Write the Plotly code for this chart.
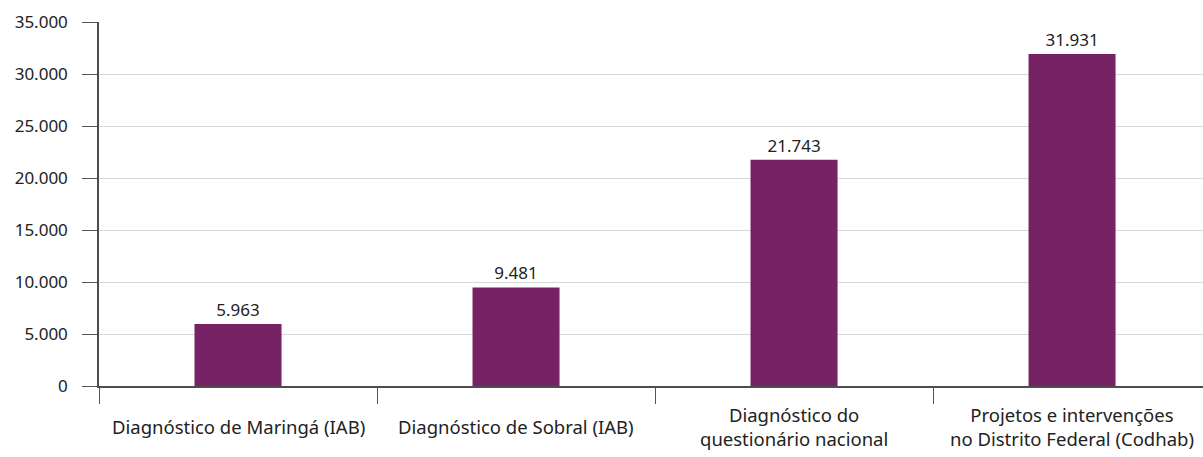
import plotly.graph_objects as go

# Data
categories = [
    "Diagnóstico de Maringá (IAB)",
    "Diagnóstico de Sobral (IAB)",
    "Diagnóstico do<br>questionário nacional",
    "Projetos e intervenções<br>no Distrito Federal (Codhab)",
]
values = [5963, 9481, 21743, 31931]
y_ticks = [0, 5000, 10000, 15000, 20000, 25000, 30000, 35000]

BAR_COLOR = "#772264"
FONT = "Noto Sans"
TEXT_COLOR = "#222222"

keys = [f"c{i}" for i in range(len(categories))]


def fmt(v):
    return f"{v:,}".replace(",", ".")


fig = go.Figure(
    go.Bar(
        x=keys,
        y=values,
        marker=dict(color=BAR_COLOR, line=dict(width=0)),
        width=0.313,
        text=[fmt(v) for v in values],
        textposition="outside",
        textfont=dict(family=FONT, size=17, color=TEXT_COLOR),
        cliponaxis=False,
    )
)

# Category labels under the axis, vertically centred
for k, lab in zip(keys, categories):
    fig.add_annotation(
        x=k, y=-0.111, xref="x", yref="paper",
        text=lab, showarrow=False,
        font=dict(family=FONT, size=18.5, color=TEXT_COLOR),
        xanchor="center", yanchor="middle", align="center",
    )

fig.update_layout(
    width=1203, height=457,
    margin=dict(l=99, r=0, t=22, b=71),
    paper_bgcolor="white", plot_bgcolor="white",
    separators=",.",
    showlegend=False,
    font=dict(family=FONT, size=17, color=TEXT_COLOR),
)

fig.update_xaxes(
    type="category",
    range=[-0.5, 3.471],
    tickson="boundaries",
    ticks="outside", ticklen=16, tickwidth=1, tickcolor="#555555",
    showticklabels=False,
    showgrid=False,
    showline=True, linecolor="#4d4d4d", linewidth=1.5,
    zeroline=False,
)

fig.update_yaxes(
    range=[0, 35000],
    tickvals=y_ticks,
    ticktext=[fmt(v) for v in y_ticks],
    ticks="outside", ticklen=15, tickwidth=1, tickcolor="#555555",
    ticklabelstandoff=11,
    tickfont=dict(family=FONT, size=17, color=TEXT_COLOR),
    showgrid=True, gridcolor="#d9d9d9", gridwidth=1,
    showline=True, linecolor="#4d4d4d", linewidth=1.5,
    zeroline=False,
)

fig.write_html("out.html")
